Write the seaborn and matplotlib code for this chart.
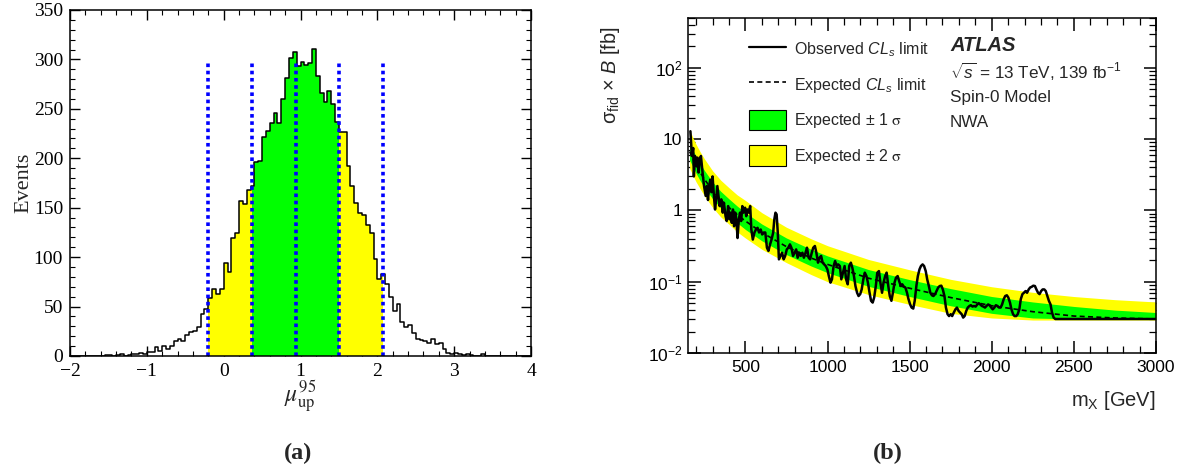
import numpy as np
import pandas as pd
import matplotlib
matplotlib.use("Agg")
import matplotlib.pyplot as plt
import seaborn as sns
from matplotlib.lines import Line2D
from matplotlib.patches import Patch
from matplotlib.ticker import MultipleLocator, LogLocator, FixedLocator, FixedFormatter, NullFormatter

# ---------------- (a) distribution of mu_up^95 from pseudo-experiments ----------------
mu_lo, mu_hi = -2.0, 4.0
mu_counts = [
    0, 0, 0, 0, 0, 0, 0, 0, 0, 1,          # -2.00 .. -1.55
    1, 0, 1, 2, 0, 1, 2, 2, 3, 2,          # -1.50 .. -1.05
    4, 4, 9, 5, 10, 7, 10, 15, 17, 15,     # -1.00 .. -0.55
    21, 24, 25, 29, 42, 48, 59, 68, 63, 68,            # -0.50 .. -0.05
    94, 85, 119, 124, 157, 154, 168, 172, 196, 197,    #  0.00 ..  0.45
    222, 228, 236, 246, 236, 260, 281, 301, 307, 293,  #  0.50 ..  0.95
    297, 294, 296, 311, 283, 266, 257, 268, 255, 237,  #  1.00 ..  1.45
    227, 227, 192, 172, 155, 145, 143, 133, 124, 98,   #  1.50 ..  1.95
    78, 83, 73, 60, 46, 53, 34, 29, 31, 23,            #  2.00 ..  2.45
    17, 16, 15, 13, 17, 12, 13, 7, 3, 2,               #  2.50 ..  2.95
    3, 2, 1, 2, 1, 0, 0, 2, 0, 0,                      #  3.00 ..  3.45
    0, 0, 0, 0, 0, 0, 0, 0, 0, 0,                      #  3.50 ..  3.95
]
# -2 sigma, -1 sigma, median, +1 sigma, +2 sigma
mu_quantiles = [-0.21, 0.37, 0.94, 1.50, 2.08]

# ---------------- (b) limits on sigma_fid x B versus m_X ----------------
band_mass = [160, 180, 200, 225, 250, 300, 350, 400, 450, 500, 600, 750, 900,
             1000, 1250, 1500, 1750, 2000, 2250, 2500, 2750, 3000]
exp_limit = [6.7, 5.3, 4.3, 3.4, 2.75, 1.9, 1.4, 1.1, 0.87, 0.71, 0.49, 0.31, 0.215,
             0.175, 0.112, 0.081, 0.060, 0.046, 0.038, 0.033, 0.031, 0.030]
exp_p1 = [8.9, 7.0, 5.7, 4.5, 3.65, 2.5, 1.85, 1.45, 1.15, 0.93, 0.645, 0.41, 0.285,
          0.23, 0.148, 0.107, 0.080, 0.062, 0.052, 0.045, 0.040, 0.037]
exp_m1 = [5.1, 4.1, 3.3, 2.6, 2.1, 1.46, 1.08, 0.85, 0.67, 0.54, 0.375, 0.24, 0.166,
          0.134, 0.086, 0.062, 0.046, 0.036, 0.031, 0.030, 0.030, 0.030]
exp_p2 = [13.5, 10.5, 8.4, 6.6, 5.3, 3.6, 2.65, 2.08, 1.65, 1.38, 0.93, 0.58, 0.40,
          0.32, 0.205, 0.147, 0.108, 0.085, 0.071, 0.062, 0.056, 0.052]
exp_m2 = [3.9, 3.1, 2.5, 2.0, 1.6, 1.1, 0.81, 0.64, 0.50, 0.41, 0.285, 0.185, 0.126,
          0.10, 0.066, 0.048, 0.036, 0.031, 0.029, 0.029, 0.029, 0.029]

obs_mass = [
    165, 174, 182, 186, 193, 201, 208, 215, 222, 229,
    239, 248, 258, 265, 272, 279, 286, 293, 300, 308,
    315, 322, 329, 336, 343, 353, 362, 369, 379, 386,
    395, 403, 410, 417, 424, 431, 438, 445, 452, 460,
    467, 474, 481, 488, 498, 505, 512, 519, 529, 536,
    545, 555, 564, 574, 583, 593, 602, 612, 621, 631,
    640, 650, 659, 669, 676, 683, 690, 697, 704, 714,
    723, 733, 742, 752, 761, 771, 780, 790, 799, 809,
    818, 828, 837, 847, 856, 866, 875, 885, 894, 904,
    913, 923, 932, 942, 951, 961, 970, 980, 989, 999,
    1008, 1018, 1027, 1037, 1046, 1056, 1065, 1075, 1084, 1094,
    1104, 1113, 1123, 1132, 1142, 1151, 1161, 1170, 1180, 1189,
    1199, 1208, 1218, 1227, 1237, 1246, 1256, 1265, 1275, 1284,
    1294, 1303, 1313, 1322, 1332, 1341, 1351, 1360, 1370, 1379,
    1389, 1398, 1408, 1417, 1427, 1436, 1446, 1455, 1465, 1474,
    1484, 1493, 1503, 1512, 1522, 1531, 1541, 1550, 1560, 1569,
    1579, 1588, 1598, 1607, 1617, 1626, 1636, 1645, 1655, 1664,
    1674, 1683, 1693, 1702, 1712, 1721, 1731, 1740, 1750, 1759,
    1769, 1779, 1788, 1798, 1807, 1817, 1826, 1835, 1845, 1854,
    1864, 1873, 1883, 1892, 1902, 1912, 1921, 1930, 1940, 1949,
    1959, 1968, 1978, 1987, 1997, 2006, 2016, 2025, 2035, 2044,
    2054, 2063, 2073, 2082, 2092, 2101, 2111, 2120, 2130, 2139,
    2149, 2158, 2168, 2177, 2187, 2196, 2206, 2215, 2225, 2234,
    2244, 2253, 2263, 2272, 2282, 2291, 2301, 2310, 2320, 2329,
    2339, 2348, 2358, 2367, 2377, 2387, 2405, 3000,
]
obs_limit = [
    12.9, 5.8, 7.5, 3.0, 5.8, 4.2, 5.5, 3.4, 5.2, 5.8,
    3.4, 2.2, 1.6, 2.2, 1.4, 2.2, 2.7, 1.8, 3.0, 1.6,
    1.03, 1.43, 2.2, 1.6, 1.15, 1.43, 0.93, 1.28, 0.83, 0.71,
    1.15, 0.75, 0.93, 0.67, 1.03, 0.60, 0.93, 0.75, 0.41, 0.75,
    0.93, 0.71, 1.15, 0.93, 1.09, 0.83, 1.03, 0.93, 1.15, 0.54,
    0.39, 0.49, 0.54, 0.57, 0.49, 0.54, 0.46, 0.49, 0.49, 0.30,
    0.27, 0.334, 0.39, 0.49, 0.75, 0.93, 0.88, 0.49, 0.206, 0.23,
    0.255, 0.206, 0.23, 0.284, 0.30, 0.334, 0.30, 0.23, 0.255, 0.284,
    0.217, 0.255, 0.23, 0.255, 0.217, 0.255, 0.30, 0.217, 0.206, 0.255,
    0.30, 0.317, 0.255, 0.185, 0.217, 0.23, 0.185, 0.175, 0.166, 0.149,
    0.12, 0.097, 0.108, 0.166, 0.195, 0.166, 0.175, 0.166, 0.108, 0.134,
    0.166, 0.108, 0.092, 0.166, 0.185, 0.157, 0.12, 0.087, 0.070, 0.063,
    0.067, 0.078, 0.108, 0.134, 0.12, 0.097, 0.070, 0.054, 0.051, 0.060,
    0.087, 0.134, 0.141, 0.097, 0.070, 0.097, 0.12, 0.134, 0.087, 0.063,
    0.054, 0.070, 0.097, 0.114, 0.12, 0.102, 0.087, 0.092, 0.085, 0.083,
    0.070, 0.057, 0.048, 0.0434, 0.042, 0.054, 0.087, 0.12, 0.149, 0.166,
    0.175, 0.166, 0.141, 0.108, 0.087, 0.070, 0.0645, 0.063, 0.067, 0.074,
    0.083, 0.087, 0.088, 0.078, 0.063, 0.0434, 0.035, 0.033, 0.035, 0.033,
    0.037, 0.041, 0.0434, 0.039, 0.037, 0.035, 0.0314, 0.033, 0.039, 0.0434,
    0.0457, 0.0468, 0.0448, 0.0457, 0.0448, 0.048, 0.050, 0.048, 0.0457, 0.0448,
    0.0434, 0.0457, 0.048, 0.0468, 0.0434, 0.041, 0.0434, 0.0468, 0.0457, 0.0434,
    0.0434, 0.048, 0.057, 0.063, 0.0645, 0.060, 0.051, 0.041, 0.035, 0.033,
    0.033, 0.035, 0.041, 0.057, 0.067, 0.070, 0.074, 0.070, 0.078, 0.083,
    0.085, 0.088, 0.087, 0.078, 0.070, 0.067, 0.074, 0.078, 0.078, 0.074,
    0.063, 0.054, 0.048, 0.037, 0.0314, 0.030, 0.030, 0.030,
]

GREEN = "#00ff00"
YELLOW = "#ffff00"

sns.set_style("ticks")
plt.rcParams.update({
    "font.family": ["Liberation Sans", "DejaVu Sans"],
    "mathtext.fontset": "custom",
    "mathtext.rm": "Liberation Sans",
    "mathtext.it": "Liberation Sans:italic",
    "mathtext.bf": "Liberation Sans:bold",
    "axes.linewidth": 1.1,
    "axes.edgecolor": "black",
    "xtick.direction": "in",
    "ytick.direction": "in",
    "xtick.top": True,
    "ytick.right": True,
    "xtick.color": "black",
    "ytick.color": "black",
})

fig = plt.figure(figsize=(11.89, 4.71), dpi=100)
ax1 = fig.add_axes([0.0589, 0.2442, 0.3877, 0.7346])
ax2 = fig.add_axes([0.5786, 0.2505, 0.3936, 0.7113])

# ---------------- panel (a) ----------------
counts = np.asarray(mu_counts, dtype=float)
edges = np.linspace(mu_lo, mu_hi, len(counts) + 1)
centers = 0.5 * (edges[:-1] + edges[1:])
hist_df = pd.DataFrame({"mu": centers, "n": counts})


def fill_range(ax, lo, hi, color):
    inner = edges[(edges > lo) & (edges < hi)]
    xs = np.concatenate([[lo], inner, [hi]])
    idx = np.clip(np.searchsorted(edges, xs[:-1], side="right") - 1, 0, len(counts) - 1)
    ys = np.append(counts[idx], counts[idx[-1]])
    ax.fill_between(xs, ys, step="post", color=color, linewidth=0, zorder=1)


q = mu_quantiles
fill_range(ax1, q[0], q[1], YELLOW)
fill_range(ax1, q[3], q[4], YELLOW)
fill_range(ax1, q[1], q[3], GREEN)

sns.histplot(data=hist_df, x="mu", weights="n", bins=edges.tolist(), element="step",
             fill=False, color="black", linewidth=1.1, ax=ax1, zorder=3)
ax1.vlines(q, 0, 297, colors="blue", linestyles=(0, (1.0, 1.0)), linewidth=2.6, zorder=4)

ax1.set_xlim(mu_lo, mu_hi)
ax1.set_ylim(0, 350)
serif = "Liberation Serif"
xt = [-2, -1, 0, 1, 2, 3, 4]
ax1.set_xticks(xt, labels=[f"{v}".replace("-", "\u2212") for v in xt],
               fontfamily=serif, fontsize=14)
yt = list(range(0, 351, 50))
ax1.set_yticks(yt, labels=[str(v) for v in yt], fontfamily=serif, fontsize=14)
ax1.xaxis.set_minor_locator(MultipleLocator(0.2))
ax1.yaxis.set_minor_locator(MultipleLocator(10))
ax1.tick_params(which="major", length=7, width=1.0, pad=5)
ax1.tick_params(which="minor", length=3.5, width=0.8)
ax1.set_xlabel("")
ax1.set_ylabel("Events", fontfamily=serif, fontsize=16)
ax1.yaxis.set_label_coords(-0.08, 0.5)

fig.text(300 / 1189, 1 - 397 / 471, r"$\mu^{95}_{\mathrm{up}}$", ha="center", va="center",
         fontsize=17, math_fontfamily="stix")

# ---------------- panel (b) ----------------
ax2.set_yscale("log")
ax2.fill_between(band_mass, exp_m2, exp_p2, color=YELLOW, linewidth=0, zorder=1)
ax2.fill_between(band_mass, exp_m1, exp_p1, color=GREEN, linewidth=0, zorder=2)
sns.lineplot(x=band_mass, y=exp_limit, ax=ax2, color="black", linewidth=1.2,
             linestyle=(0, (3, 2)), sort=False, estimator=None, zorder=3)
sns.lineplot(x=obs_mass, y=obs_limit, ax=ax2, color="black", linewidth=1.8,
             sort=False, estimator=None, zorder=4)

ax2.set_xlim(150, 3000)
ax2.set_ylim(0.01, 500)
ax2.xaxis.set_major_locator(FixedLocator([500, 1000, 1500, 2000, 2500, 3000]))
ax2.xaxis.set_minor_locator(MultipleLocator(100))
ax2.yaxis.set_major_locator(FixedLocator([0.01, 0.1, 1, 10, 100]))
ax2.yaxis.set_major_formatter(FixedFormatter([r"$10^{-2}$", r"$10^{-1}$", "1", "10", r"$10^{2}$"]))
ax2.yaxis.set_minor_locator(LogLocator(base=10, subs=np.arange(2, 10), numticks=20))
ax2.yaxis.set_minor_formatter(NullFormatter())
ax2.tick_params(axis="both", which="major", labelsize=12.5, length=9, width=1.1)
ax2.tick_params(axis="x", which="major", pad=5)
ax2.tick_params(axis="y", which="major", pad=4)
ax2.tick_params(which="minor", length=5, width=0.9)
ax2.set_xlabel("")
ax2.set_ylabel("")

fig.text(1156 / 1189, 1 - 401 / 471, r"m$_{\mathrm{X}}$ [GeV]", ha="right", va="center",
         fontsize=14.5)
fig.text(611 / 1189, 1 - 27 / 471, r"$\mathrm{\sigma}_{\mathrm{fid}}$ $\times$ $B$ [fb]",
         rotation=90, ha="center", va="top", fontsize=14.3)

handles = [
    Line2D([], [], color="black", linewidth=1.6),
    Line2D([], [], color="black", linewidth=1.2, linestyle=(0, (3, 2))),
    Patch(facecolor=GREEN, edgecolor="black", linewidth=0.8),
    Patch(facecolor=YELLOW, edgecolor="black", linewidth=0.8),
]
labels = [
    r"Observed $CL_s$ limit",
    r"Expected $CL_s$ limit",
    "Expected \u00b1 1 $\\mathrm{\\sigma}$",
    "Expected \u00b1 2 $\\mathrm{\\sigma}$",
]
leg = ax2.legend(handles, labels, loc="upper left", bbox_to_anchor=(0.130, 0.937),
                 frameon=False, fontsize=11.5, handlelength=2.3, handleheight=1.6,
                 handletextpad=0.5, labelspacing=0.93, borderpad=0, borderaxespad=0)
for t in leg.get_texts()[2:]:
    t.set_math_fontfamily("stix")

ax2.text(0.56, 0.919, "ATLAS", transform=ax2.transAxes, fontsize=14.5,
         fontweight="bold", fontstyle="italic", va="center", ha="left")
ax2.text(0.56, 0.838, r"$\sqrt{s}$ = 13 TeV, 139 fb$^{-1}$", transform=ax2.transAxes,
         fontsize=12.3, va="center", ha="left")
ax2.text(0.56, 0.762, "Spin-0 Model", transform=ax2.transAxes, fontsize=12.3,
         va="center", ha="left")
ax2.text(0.56, 0.688, "NWA", transform=ax2.transAxes, fontsize=12.3,
         va="center", ha="left")

for ax in (ax1, ax2):
    for s in ax.spines.values():
        s.set_visible(True)
        s.set_linewidth(1.1)
        s.set_zorder(10)

fig.text(298 / 1189, 1 - 453 / 471, "(a)", ha="center", va="center", fontsize=17.5,
         fontweight="bold", fontfamily=serif)
fig.text(888 / 1189, 1 - 453 / 471, "(b)", ha="center", va="center", fontsize=17.5,
         fontweight="bold", fontfamily=serif)

fig.savefig("out.png", dpi=100)
